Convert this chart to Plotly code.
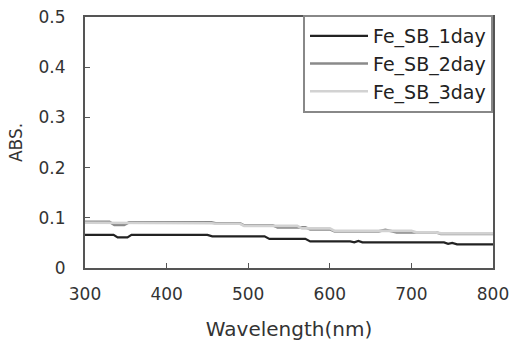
import plotly.graph_objects as go

# Fe_SB_1day
wl_1 = [300, 335, 340, 352, 357, 450, 456, 520, 526, 570, 576, 625, 630, 635, 640, 740, 745, 750, 756, 800]
abs_1 = [0.066, 0.066, 0.061, 0.061, 0.066, 0.066, 0.063, 0.063, 0.058, 0.058, 0.053, 0.053,
         0.051, 0.054, 0.051, 0.051, 0.048, 0.050, 0.047, 0.047]

# Fe_SB_2day
wl_2 = [300, 330, 336, 348, 354, 455, 460, 490, 495, 530, 536, 570, 576, 600, 606, 660, 668, 675, 682, 730, 736, 800]
abs_2 = [0.092, 0.092, 0.086, 0.086, 0.091, 0.091, 0.089, 0.089, 0.085, 0.085, 0.081, 0.081,
         0.077, 0.077, 0.073, 0.073, 0.076, 0.073, 0.071, 0.071, 0.068, 0.068]

# Fe_SB_3day
wl_3 = [300, 340, 346, 455, 460, 490, 495, 560, 566, 600, 606, 700, 706, 730, 736, 800]
abs_3 = [0.090, 0.090, 0.089, 0.089, 0.088, 0.088, 0.084, 0.084, 0.079, 0.079, 0.074, 0.074,
         0.071, 0.071, 0.069, 0.069]

names = ["Fe_SB_1day", "Fe_SB_2day", "Fe_SB_3day"]
colors = ["#222222", "#8a8a8a", "#d2d2d2"]
widths = [2.2, 2.6, 2.6]

FONT = "DejaVu Sans"

fig = go.Figure()
for wl, ab, nm, c, w in zip([wl_1, wl_2, wl_3], [abs_1, abs_2, abs_3], names, colors, widths):
    fig.add_trace(go.Scatter(x=wl, y=ab, mode="lines", name=nm,
                             line=dict(color=c, width=w)))

axis_common = dict(showline=True, linecolor="#555555", linewidth=2, mirror=True,
                   showgrid=False, zeroline=False, ticks="inside", ticklen=5,
                   tickcolor="#555555", automargin=False,
                   tickfont=dict(family=FONT, size=17, color="#333333"))

fig.update_layout(
    width=515, height=341,
    margin=dict(l=85, r=22, t=17, b=73),
    paper_bgcolor="white", plot_bgcolor="white",
    font=dict(family=FONT, color="#333333"),
    xaxis=dict(range=[300, 800], tickvals=[300, 400, 500, 600, 700, 800],
               title=dict(text="Wavelength(nm)", font=dict(family=FONT, size=20, color="#333333"), standoff=20),
               ticklabelstandoff=10, **axis_common),
    yaxis=dict(range=[0, 0.5], tickvals=[0, 0.1, 0.2, 0.3, 0.4, 0.5],
               ticktext=["0", "0.1", "0.2", "0.3", "0.4", "0.5"],
               title=dict(text="ABS.", font=dict(family=FONT, size=17, color="#333333"), standoff=12),
               ticklabelstandoff=14, **axis_common),
    showlegend=True,
    legend=dict(x=1, y=1.008, xanchor="right", yanchor="top",
                bgcolor="white", bordercolor="#888888", borderwidth=2,
                font=dict(family=FONT, size=19, color="#222222"),
                itemwidth=58, tracegroupgap=0),
)

fig.write_html("out.html")
